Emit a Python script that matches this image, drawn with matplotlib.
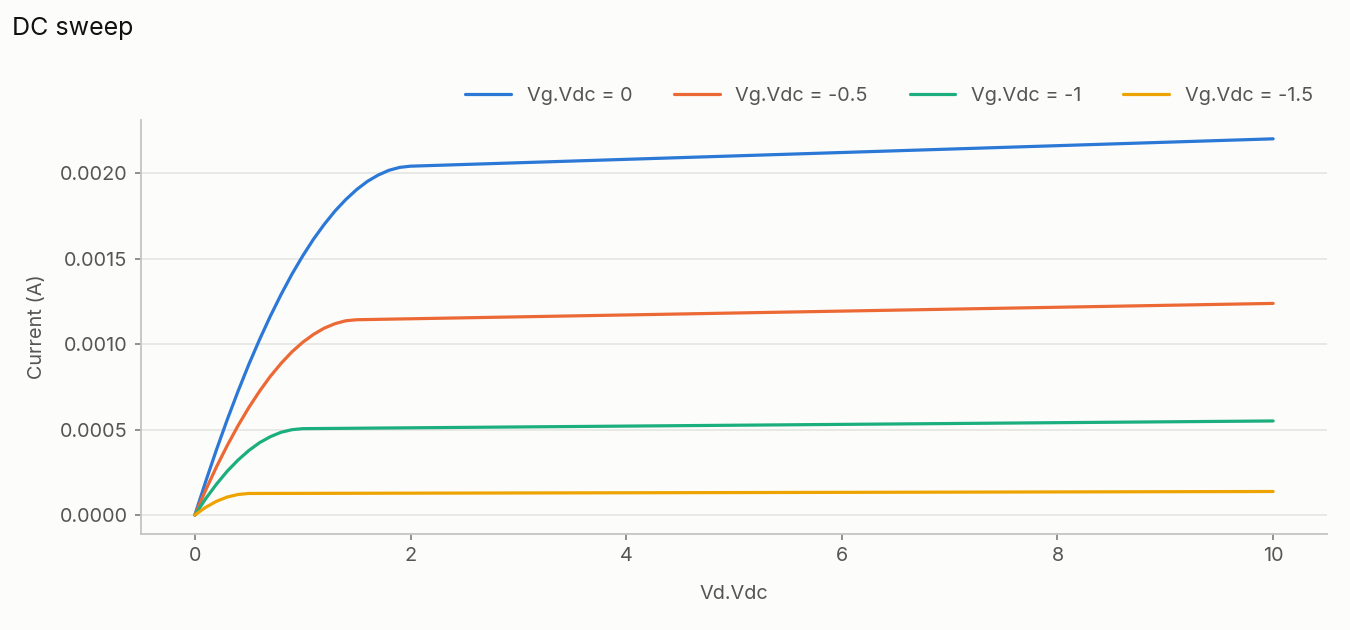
import matplotlib
matplotlib.use("Agg")
import matplotlib.pyplot as plt

# drain voltage sweep points (V) and drain current (A) per gate voltage
vd_blue = [0, 0.1, 0.2, 0.3, 0.4, 0.5, 0.6, 0.7, 0.8, 0.9, 1.0, 1.1, 1.2, 1.3, 1.4,
           1.5, 1.6, 1.7, 1.8, 1.9, 2.0, 4, 6, 8, 10]
id_blue = [0, 0.000195, 0.000381, 0.000557, 0.000723, 0.00088, 0.001026, 0.001163,
           0.00129, 0.001408, 0.001515, 0.001613, 0.0017, 0.001778, 0.001845, 0.001903,
           0.001951, 0.001988, 0.002016, 0.002033, 0.00204, 0.00208, 0.00212, 0.00216,
           0.0022]

vd_orange = [0, 0.1, 0.2, 0.3, 0.4, 0.5, 0.6, 0.7, 0.8, 0.9, 1.0, 1.1, 1.2, 1.3, 1.4,
             1.5, 4, 6, 8, 10]
id_orange = [0, 0.000145, 0.000281, 0.000406, 0.000522, 0.000628, 0.000724, 0.000811,
             0.000887, 0.000954, 0.00101, 0.001056, 0.001093, 0.001119, 0.001136,
             0.001142, 0.00117, 0.0011925, 0.001215, 0.0012375]

vd_green = [0, 0.1, 0.2, 0.3, 0.4, 0.5, 0.6, 0.7, 0.8, 0.9, 1.0, 4, 6, 8, 10]
id_green = [0, 0.000095, 0.00018, 0.000256, 0.000321, 0.000377, 0.000423, 0.000458,
            0.000484, 0.000499, 0.000505, 0.00052, 0.00053, 0.00054, 0.00055]

vd_yellow = [0, 0.1, 0.2, 0.3, 0.4, 0.5, 4, 6, 8, 10]
id_yellow = [0, 0.000045, 0.00008, 0.000105, 0.00012, 0.000126, 0.00013, 0.0001325,
             0.000135, 0.0001375]

labels = ["Vg.Vdc = 0", "Vg.Vdc = -0.5", "Vg.Vdc = -1", "Vg.Vdc = -1.5"]
colors = ["#2b78d6", "#ec6936", "#1bae7e", "#eda300"]

x_ticks = [0, 2, 4, 6, 8, 10]
y_ticks = [0.0, 0.0005, 0.0010, 0.0015, 0.0020]

plt.rcParams['font.family'] = ['Inter', 'DejaVu Sans']
bg = "#fcfcfa"
txt = "#555555"

fig = plt.figure(figsize=(13.5, 6.3), dpi=100, facecolor=bg)
ax = fig.add_axes([0.1044, 0.1524, 0.8786, 0.6571], facecolor=bg)

series = [(vd_blue, id_blue), (vd_orange, id_orange), (vd_green, id_green), (vd_yellow, id_yellow)]
for (xs, ys), lab, c in zip(series, labels, colors):
    ax.plot(xs, ys, color=c, lw=2.3, label=lab, solid_capstyle='round')

ax.set_xlim(-0.5, 10.5)
ax.set_ylim(-0.000111, 0.00231)
ax.set_xticks(x_ticks)
ax.set_yticks(y_ticks)
ax.set_xticklabels([str(t) for t in x_ticks])
ax.set_yticklabels(["%.4f" % t for t in y_ticks])

ax.grid(axis='y', color="#e2e2de", lw=1.1)
ax.set_axisbelow(True)
for s in ['top', 'right']:
    ax.spines[s].set_visible(False)
for s in ['left', 'bottom']:
    ax.spines[s].set_color("#c4c4c0")
    ax.spines[s].set_linewidth(1.3)
ax.tick_params(colors="#888888", labelcolor=txt, labelsize=14.3, length=4.5, width=1.3, pad=5)

ax.set_xlabel("Vd.Vdc", fontsize=14.3, color=txt, labelpad=14)
ax.set_ylabel("Current (A)", fontsize=14.3, color=txt, labelpad=10)

fig.text(0.009, 0.955, "DC sweep", fontsize=18, color="#111111", ha='left', va='center')

ax.legend(loc='center right', bbox_to_anchor=(0.9785, 0.847), bbox_transform=fig.transFigure,
          ncol=4, frameon=False, fontsize=14.3, labelcolor=txt, handlelength=2.3,
          handletextpad=0.8, columnspacing=2.1, borderaxespad=0)

fig.savefig("out.png", dpi=100, facecolor=bg)
